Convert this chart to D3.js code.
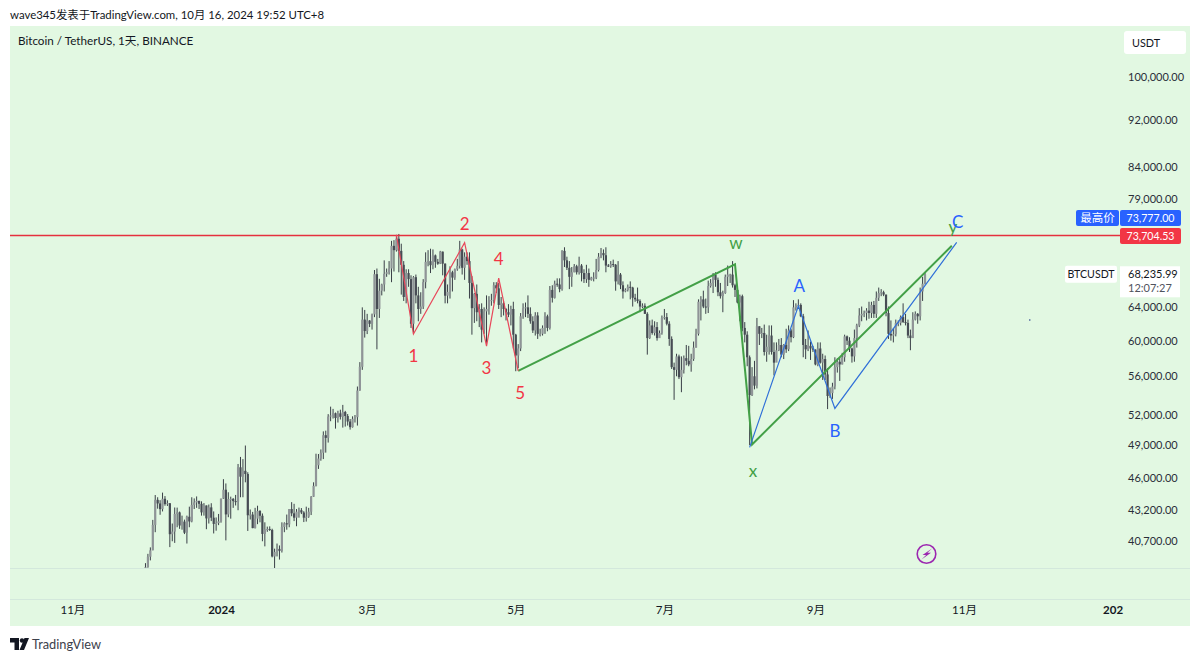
<!DOCTYPE html>
<html>
<head>
<meta charset="utf-8">
<script src="https://cdn.jsdelivr.net/npm/d3@7"></script>
<style>
html, body { margin: 0; padding: 0; background: #fff; }
text { font-family: "Lato", "Noto Sans CJK SC", sans-serif; fill: #131722; }
</style>
</head>
<body>
<script>
//daily candles, BTCUSDT, thousands of USDT, one line per month from 1 Dec 2023
var firstDay = "2023-12-01";
var opens = [
37.72,38.69,39.48,39.97,41.99,44.08,43.77,43.29,44.17,43.72,43.79,41.24,41.45,42.89,43.02,41.94,42.26,41.36,42.66,42.27,43.65,43.86,43.99,43.74,43.02,43.6,42.52,43.44,42.58,42.07,42.14,
42.28,44.18,44.95,42.85,44.15,44.16,43.97,43.93,46.95,46.1,46.63,46.34,42.78,42.84,41.73,42.5,43.14,42.74,41.26,41.62,41.66,41.58,39.5,39.85,40.08,39.93,41.82,42.12,42.03,43.3,42.94,
42.58,43.08,43.2,43.01,42.58,42.66,43.08,44.34,45.29,47.13,47.75,48.29,49.96,49.7,51.8,51.9,52.13,51.65,52.12,51.77,52.26,51.85,51.3,50.74,51.57,51.73,54.48,57.04,62.5,
61.13,62.39,61.99,63.13,68.25,63.8,66.1,66.9,68.3,68.5,69.0,72.1,71.5,73.1,71.4,69.5,65.3,68.4,67.6,62.0,67.85,65.5,63.8,64.1,67.2,69.9,69.99,69.45,70.78,69.9,69.65,
71.3,69.65,65.46,65.95,68.5,67.8,68.9,69.36,71.6,69.1,70.6,70.0,67.1,63.9,65.7,63.4,63.8,61.3,63.5,63.8,64.9,64.9,66.8,66.4,64.3,64.5,63.8,63.4,63.1,63.8,
60.7,58.3,59.1,62.9,63.9,64.0,63.2,62.3,61.2,63.0,60.8,60.8,61.5,62.9,61.5,66.2,65.2,67.0,66.9,66.3,71.4,70.1,69.1,67.9,68.5,69.3,68.5,69.4,68.4,67.6,68.4,
67.5,67.8,67.8,68.8,70.6,71.1,70.8,69.4,69.3,69.6,69.5,67.3,68.2,66.8,66.0,66.2,66.6,66.5,65.2,65.0,64.8,64.1,64.2,63.2,60.3,61.8,60.9,61.6,60.3,60.9,
62.7,62.8,62.0,60.2,57.0,56.7,58.2,55.9,56.7,58.0,57.7,57.3,57.9,59.2,60.8,64.7,65.0,64.1,64.0,66.7,67.1,68.2,67.5,65.9,65.4,65.8,67.9,68.2,68.2,66.8,66.2,
64.6,65.4,61.5,60.7,58.1,54.0,56.0,55.0,61.7,60.8,60.9,58.7,59.3,60.6,58.7,57.5,58.9,59.5,58.4,59.5,59.0,61.2,60.4,64.0,64.2,64.3,62.9,59.5,59.0,59.4,59.1,
58.97,57.3,59.1,57.5,57.9,56.2,53.9,54.2,54.9,57.0,57.6,57.3,58.1,60.5,60.0,59.1,58.2,60.3,61.8,63.0,63.2,63.3,63.6,63.3,64.3,63.2,65.2,65.8,65.9,65.6,
63.3,60.8,60.6,60.75,62.1,62.1,62.8,62.2,62.1,60.6,60.3,62.5,63.2,62.9,66.0,67.0
];
var highs = [
38.99,39.7,40.2,42.4,44.49,44.3,44.05,44.7,44.4,44.04,43.8,42.1,43.43,43.42,43.09,42.75,42.42,42.75,43.5,44.3,44.2,44.37,44.0,43.95,43.8,43.6,43.68,43.79,43.1,42.6,42.89,
44.18,45.88,45.5,44.73,44.35,44.23,44.5,47.25,47.9,47.7,48.97,46.5,43.26,43.06,43.4,43.58,43.2,42.93,42.2,41.85,41.87,41.68,40.1,40.5,40.35,42.2,42.2,42.84,43.3,43.88,43.74,
43.3,43.42,43.38,43.12,43.5,43.4,44.4,45.6,48.2,48.17,48.6,50.33,50.4,52.04,52.8,52.57,52.2,52.38,52.49,52.98,52.37,52.05,51.55,51.82,51.95,54.9,57.56,64.0,63.68,
63.2,62.43,63.23,68.8,69.0,67.64,67.0,70.1,69.0,70.0,72.8,72.9,73.65,73.78,72.4,70.0,68.9,68.9,68.1,68.0,68.2,66.6,65.9,67.6,71.2,71.5,71.7,71.6,70.9,70.3,71.4,
71.3,69.7,66.9,69.3,68.7,69.0,70.3,72.8,71.7,71.2,71.2,71.2,68.0,65.8,66.9,64.4,64.5,64.0,65.5,65.4,65.7,67.2,67.2,67.1,65.3,64.8,63.9,64.4,64.2,64.7,
60.8,59.6,63.3,64.5,64.6,65.5,64.0,62.9,63.4,63.4,61.4,61.8,63.4,63.1,66.7,66.8,67.4,67.7,67.7,71.5,71.9,70.6,70.0,69.2,69.6,69.5,70.6,69.6,68.9,69.5,69.0,
67.9,68.5,70.3,71.1,71.8,71.6,71.9,69.6,70.0,70.2,69.6,70.0,68.4,67.3,66.4,66.9,67.3,66.6,65.7,66.5,65.0,64.5,64.5,63.4,62.4,62.5,62.3,62.2,61.2,63.0,
63.8,63.3,62.3,60.5,57.5,58.5,58.4,58.2,58.3,59.5,59.4,58.5,59.9,61.4,65.0,65.4,66.1,65.1,67.4,67.6,68.4,68.5,67.8,67.1,66.1,68.2,69.4,68.3,70.0,67.0,66.8,
65.6,65.6,62.2,61.1,58.3,57.0,57.7,62.7,61.7,61.5,61.9,60.7,61.8,61.8,59.8,59.8,60.2,60.3,59.6,61.4,61.8,61.4,64.9,64.5,65.0,64.5,63.2,60.2,61.2,59.9,59.4,
59.0,59.8,59.8,58.5,58.3,56.9,54.8,55.3,58.1,58.0,58.0,58.6,60.7,60.6,60.4,59.2,61.3,62.0,63.9,64.1,63.6,63.9,64.7,64.7,64.8,66.0,66.5,66.3,66.1,65.6,
64.1,62.4,61.5,62.5,62.4,63.0,64.5,63.2,62.5,61.3,63.4,63.5,63.3,66.5,67.9,68.4
];
var lows = [
37.6,38.65,39.2,39.98,41.4,43.33,42.82,43.1,43.58,43.56,40.22,40.68,40.55,41.8,41.67,41.6,41.25,40.5,41.8,42.2,43.3,43.4,43.3,42.75,42.75,41.64,42.1,42.3,41.3,41.52,41.97,
42.17,44.15,40.75,42.62,42.5,43.4,43.6,43.2,44.3,44.3,45.6,41.5,42.43,41.72,41.7,42.05,42.2,40.68,40.28,41.43,41.5,39.43,38.55,39.5,39.26,39.8,41.4,41.6,41.8,42.7,42.3,
41.88,42.58,42.88,42.22,42.26,42.57,42.8,44.33,45.24,46.8,47.55,47.7,48.3,49.25,51.33,51.6,50.6,51.2,51.5,50.7,50.8,50.9,50.5,50.7,51.2,50.9,54.45,56.7,60.36,
60.77,61.6,61.3,62.8,59.0,62.7,65.5,66.0,67.9,68.2,67.2,68.6,71.3,68.5,65.6,64.8,64.5,66.6,61.5,60.8,64.5,62.3,63.2,63.8,66.4,69.3,68.4,68.9,69.1,69.5,69.6,
68.1,64.5,64.5,65.1,66.0,67.5,68.7,69.0,68.2,67.5,69.5,65.1,60.7,62.1,62.3,61.6,59.8,60.8,59.6,63.1,64.2,64.5,65.8,63.8,62.8,63.0,62.4,62.8,61.8,59.1,
56.55,56.9,58.8,62.6,62.8,62.7,62.0,60.9,60.6,60.2,60.5,60.6,60.8,61.1,61.3,64.6,65.1,66.6,65.9,66.1,69.2,68.8,66.3,66.6,68.5,68.2,68.2,67.3,67.1,67.1,66.6,
67.4,67.3,67.6,68.6,70.4,70.1,68.5,69.2,69.1,69.2,66.1,66.9,66.3,65.1,65.9,66.0,65.0,64.1,64.7,64.5,63.4,63.9,63.2,58.4,60.2,60.7,60.6,60.0,60.4,60.7,
62.5,61.8,59.4,56.8,53.5,56.0,55.7,54.3,56.3,57.2,57.1,56.5,57.7,59.2,60.6,62.4,63.9,63.2,63.3,66.5,65.8,66.6,65.4,65.1,63.4,65.7,66.7,67.1,66.5,65.3,64.5,
62.3,61.1,59.8,57.1,49.0,53.9,54.6,54.7,59.5,60.3,58.3,57.6,58.4,58.4,56.1,57.8,58.8,58.1,57.9,58.6,58.8,59.8,60.3,63.6,63.8,62.8,58.1,57.9,58.8,57.8,58.7,
57.2,57.1,57.4,55.6,55.6,52.55,53.7,53.6,54.6,56.4,55.5,57.3,57.6,59.5,58.7,57.5,57.6,59.2,61.6,62.3,62.8,62.4,62.6,62.7,62.7,62.7,64.8,65.4,65.4,62.9,
60.2,60.0,59.8,60.5,61.7,61.8,62.1,61.8,60.3,58.9,60.4,62.4,62.0,62.4,64.8,66.9
];
var closes = [
38.69,39.48,39.97,41.99,44.08,43.77,43.29,44.17,43.72,43.79,41.24,41.45,42.89,43.02,41.94,42.26,41.36,42.66,42.27,43.65,43.86,43.99,43.74,43.02,43.6,42.52,43.44,42.58,42.07,42.14,42.28,
44.18,44.95,42.85,44.15,44.16,43.97,43.93,46.95,46.1,46.63,46.34,42.78,42.84,41.73,42.5,43.14,42.74,41.26,41.62,41.66,41.58,39.5,39.85,40.08,39.93,41.82,42.12,42.03,43.3,42.94,42.58,
43.08,43.2,43.01,42.58,42.66,43.08,44.34,45.29,47.13,47.75,48.29,49.96,49.7,51.8,51.9,52.13,51.65,52.12,51.77,52.26,51.85,51.3,50.74,51.57,51.73,54.48,57.04,62.5,61.13,
62.39,61.99,63.13,68.25,63.8,66.1,66.9,68.3,68.5,69.0,72.1,71.5,73.1,71.4,69.5,65.3,68.4,67.6,62.0,67.85,65.5,63.8,64.1,67.2,69.9,69.99,69.45,70.78,69.9,69.65,71.3,
69.65,65.46,65.95,68.5,67.8,68.9,69.36,71.6,69.1,70.6,70.0,67.1,63.9,65.7,63.4,63.8,61.3,63.5,63.8,64.9,64.9,66.8,66.4,64.3,64.5,63.8,63.4,63.1,63.8,60.7,
58.3,59.1,62.9,63.9,64.0,63.2,62.3,61.2,63.0,60.8,60.8,61.5,62.9,61.5,66.2,65.2,67.0,66.9,66.3,71.4,70.1,69.1,67.9,68.5,69.3,68.5,69.4,68.4,67.6,68.4,67.5,
67.8,67.8,68.8,70.6,71.1,70.8,69.4,69.3,69.6,69.5,67.3,68.2,66.8,66.0,66.2,66.6,66.5,65.2,65.0,64.8,64.1,64.2,63.2,60.3,61.8,60.9,61.6,60.3,60.9,62.7,
62.8,62.0,60.2,57.0,56.7,58.2,55.9,56.7,58.0,57.7,57.3,57.9,59.2,60.8,64.7,65.0,64.1,64.0,66.7,67.1,68.2,67.5,65.9,65.4,65.8,67.9,68.2,68.2,66.8,66.2,64.6,
65.4,61.5,60.7,58.1,54.0,56.0,55.0,61.7,60.8,60.9,58.7,59.3,60.6,58.7,57.5,58.9,59.5,58.4,59.5,59.0,61.2,60.4,64.0,64.2,64.3,62.9,59.5,59.0,59.4,59.1,58.97,
57.3,59.1,57.5,57.9,56.2,53.9,54.2,54.9,57.0,57.6,57.3,58.1,60.5,60.0,59.1,58.2,60.3,61.8,63.0,63.2,63.3,63.6,63.3,64.3,63.2,65.2,65.8,65.9,65.6,63.3,
60.8,60.6,60.75,62.1,62.1,62.8,62.2,62.1,60.6,60.3,62.5,63.2,62.9,66.0,67.0,68.24
];

//axis ticks
var priceTicks = [100000, 92000, 84000, 79000, 64000, 60000, 56000, 52000, 49000, 46000, 43200, 40700];
var timeTicks = ["2023-11-01", "2024-01-01", "2024-03-01", "2024-05-01", "2024-07-01", "2024-09-01", "2024-11-01", "2025-01-01"];
var timeLabels = ["11月", "2024", "3月", "5月", "7月", "9月", "11月", "202"];
var boldLabels = ["2024", "202"];

//hand drawn waves on the chart, [date, price in thousands, label, label dx, label dy]
var redWave = [
    ["2024-03-13", 73.64, "", 0, 0],
    ["2024-03-20", 60.77, "1", 0, 22],
    ["2024-04-10", 72.54, "2", 0, -19],
    ["2024-04-19", 59.37, "3", 0, 22],
    ["2024-04-24", 67.74, "4", 0, -19],
    ["2024-05-02", 56.60, "5", 2, 22]
];
var greenWave = [
    ["2024-05-02", 56.60, "", 0, 0],
    ["2024-07-30", 69.56, "w", 1, -21],
    ["2024-08-06", 49.07, "x", 1, 26],
    ["2024-10-27", 72.11, "y", 1, -19]
];
var blueWave = [
    ["2024-08-05", 48.79, "", 0, 0],
    ["2024-08-25", 64.16, "A", 1, -20],
    ["2024-09-09", 52.62, "B", 0, 22],
    ["2024-10-29", 72.59, "C", 1, -20]
];

var highPrice = 73704.53;
var maxPrice = 73777.00;
var lastPrice = 68235.99;
var strayDot = ["2024-11-28", 62450];

var width = 1200;
var height = 660;
var paneLeft = 10, paneRight = 1190, paneTop = 26, paneBottom = 568, axisBottom = 626;

var parse = d3.utcParse("%Y-%m-%d");
var money = d3.format(",.2f");

var x = d3.scaleUtc()
    .domain([parse("2024-01-01"), parse("2024-11-01")])
    .range([221, 964]);
var y = d3.scaleLog()
    .domain([40700, 100000])
    .range([541, 77]);

var candles = opens.map(function (o, i) {
    return { date: d3.utcDay.offset(parse(firstDay), i), o: o * 1000, h: highs[i] * 1000, l: lows[i] * 1000, c: closes[i] * 1000 };
});

var canvas = d3.select("body")
    .append("svg")
    .attr("width", width)
    .attr("height", height)
    .style("display", "block");

canvas.append("defs").append("clipPath").attr("id", "pane")
    .append("rect")
    .attr("x", paneLeft).attr("y", paneTop)
    .attr("width", 1110).attr("height", paneBottom - paneTop);

//background
canvas.append("rect")
    .attr("x", paneLeft).attr("y", paneTop)
    .attr("width", paneRight - paneLeft).attr("height", axisBottom - paneTop)
    .attr("fill", "#e2f8e2");
canvas.selectAll(".sep")
    .data([paneBottom, 599])
    .enter().append("line")
    .attr("x1", paneLeft).attr("x2", paneRight)
    .attr("y1", function (d) { return d + 0.5; }).attr("y2", function (d) { return d + 0.5; })
    .attr("stroke", "#d3e8dc");

//header and footer
canvas.append("text").attr("x", 10).attr("y", 19).style("font-size", "11.4px")
    .text("wave345发表于TradingView.com, 10月 16, 2024 19:52 UTC+8");
canvas.append("text").attr("x", 18).attr("y", 45).style("font-size", "11.7px")
    .text("Bitcoin / TetherUS, 1天, BINANCE");
canvas.append("path")
    .attr("d", "M10 638h9v12h-4.5v-7.5H10z M24.5 638l4.5 0-5 12h-4.5z")
    .attr("fill", "#131722");
canvas.append("circle").attr("cx", 22).attr("cy", 640.5).attr("r", 2.2).attr("fill", "#131722");
canvas.append("text").attr("x", 32).attr("y", 649).style("font-size", "12.8px").style("fill", "#3c404b")
    .text("TradingView");

//candles
var candleLayer = canvas.append("g").attr("clip-path", "url(#pane)").style("filter", "blur(0.35px)");
var bodyWidth = 2.2;
candleLayer.selectAll(".wick")
    .data(candles)
    .enter().append("line")
    .attr("class", "wick")
    .attr("x1", function (d) { return x(d.date); })
    .attr("x2", function (d) { return x(d.date); })
    .attr("y1", function (d) { return y(d.h); })
    .attr("y2", function (d) { return y(d.l); })
    .attr("stroke", "#3a3f47")
    .attr("stroke-width", 1);
candleLayer.selectAll(".body")
    .data(candles)
    .enter().append("rect")
    .attr("class", "body")
    .attr("x", function (d) { return x(d.date) - bodyWidth / 2; })
    .attr("width", bodyWidth)
    .attr("y", function (d) { return y(Math.max(d.o, d.c)); })
    .attr("height", function (d) { return Math.max(1, y(Math.min(d.o, d.c)) - y(Math.max(d.o, d.c))); })
    .attr("fill", function (d) { return d.c >= d.o ? "#8f9497" : "#474c54"; });

//red level line
canvas.append("line")
    .attr("x1", paneLeft).attr("x2", 1120)
    .attr("y1", y(highPrice) + 1).attr("y2", y(highPrice) + 1)
    .attr("stroke", "#e5303f").attr("stroke-width", 1.5);

//waves
var waveLine = d3.line()
    .x(function (d) { return x(parse(d[0])); })
    .y(function (d) { return y(d[1] * 1000); });

function drawWave(points, color, lineWidth, labelColor) {
    canvas.append("path")
        .datum(points)
        .attr("d", waveLine)
        .attr("fill", "none")
        .attr("stroke", color)
        .attr("stroke-width", lineWidth);
    canvas.selectAll(".lab" + color.slice(1))
        .data(points.filter(function (d) { return d[2] !== ""; }))
        .enter().append("text")
        .attr("x", function (d) { return x(parse(d[0])) + d[3]; })
        .attr("y", function (d) { return y(d[1] * 1000) + d[4]; })
        .attr("text-anchor", "middle")
        .attr("dy", "0.36em")
        .style("font-size", "17px")
        .style("fill", labelColor)
        .text(function (d) { return d[2]; });
}
drawWave(greenWave, "#43a047", 2, "#43a047");
drawWave(redWave, "#e8475a", 1.2, "#f23645");
drawWave(blueWave, "#2f6fd8", 1.2, "#2962ff");

//small stray dot
canvas.append("circle").attr("cx", x(parse(strayDot[0]))).attr("cy", y(strayDot[1])).attr("r", 0.8).attr("fill", "#2a3f8f");

//price axis
var priceAxis = d3.axisRight(y)
    .tickValues(priceTicks)
    .tickFormat(money)
    .tickSize(0);
var priceG = canvas.append("g")
    .attr("transform", "translate(1128,0)")
    .call(priceAxis);
priceG.select(".domain").remove();
priceG.selectAll("text").attr("x", 0).style("font-size", "11px").style("fill", "#2a2e39");

//time axis
var timeAxis = d3.axisBottom(x)
    .tickValues(timeTicks.map(parse))
    .tickFormat(function (d, i) { return timeLabels[i]; })
    .tickSize(0);
var timeG = canvas.append("g")
    .attr("transform", "translate(0,603)")
    .call(timeAxis);
timeG.select(".domain").remove();
timeG.selectAll("text")
    .style("font-size", "11.5px")
    .style("font-weight", function (d, i) { return boldLabels.indexOf(timeLabels[i]) >= 0 ? "700" : "400"; });

//USDT button
canvas.append("rect").attr("x", 1124).attr("y", 31).attr("width", 62).attr("height", 23).attr("rx", 3).attr("fill", "#fff");
canvas.append("text").attr("x", 1132).attr("y", 46.5).style("font-size", "10.8px").text("USDT");

//price tags
function tag(x0, w, yc, h, color, label, labelColor, size) {
    canvas.append("rect").attr("x", x0).attr("y", yc - h / 2).attr("width", w).attr("height", h).attr("rx", 2).attr("fill", color);
    canvas.append("text").attr("x", x0 + w / 2).attr("y", yc).attr("dy", "0.36em")
        .attr("text-anchor", "middle").style("font-size", size + "px").style("fill", labelColor).text(label);
}
tag(1076, 43, y(maxPrice) - 16, 16, "#2962ff", "最高价", "#fff", 11.5);
tag(1120, 61, y(maxPrice) - 16, 16, "#2962ff", money(maxPrice), "#fff", 10.6);
tag(1120, 61, y(highPrice) + 1.5, 16, "#f23645", money(highPrice), "#fff", 10.6);
tag(1065, 52, y(lastPrice), 17, "#fff", "BTCUSDT", "#131722", 10.6);
canvas.append("rect").attr("x", 1120).attr("y", y(lastPrice) - 8).attr("width", 60).attr("height", 31).attr("fill", "#fff");
canvas.append("text").attr("x", 1128).attr("y", y(lastPrice)).attr("dy", "0.36em").style("font-size", "11px").text(money(lastPrice));
canvas.append("text").attr("x", 1128).attr("y", y(lastPrice) + 14).attr("dy", "0.36em").style("font-size", "11px").style("fill", "#50535e").text("12:07:27");

//lightning badge
canvas.append("circle").attr("cx", 926.5).attr("cy", 554).attr("r", 9.3).attr("fill", "none").attr("stroke", "#9c27b0").attr("stroke-width", 1.6);
canvas.append("path").attr("d", "M932 548.5l-9.5 6.5h3.6l-4.6 4.5 9.5-6.7h-3.6z").attr("fill", "#9c27b0");
</script>
</body>
</html>
